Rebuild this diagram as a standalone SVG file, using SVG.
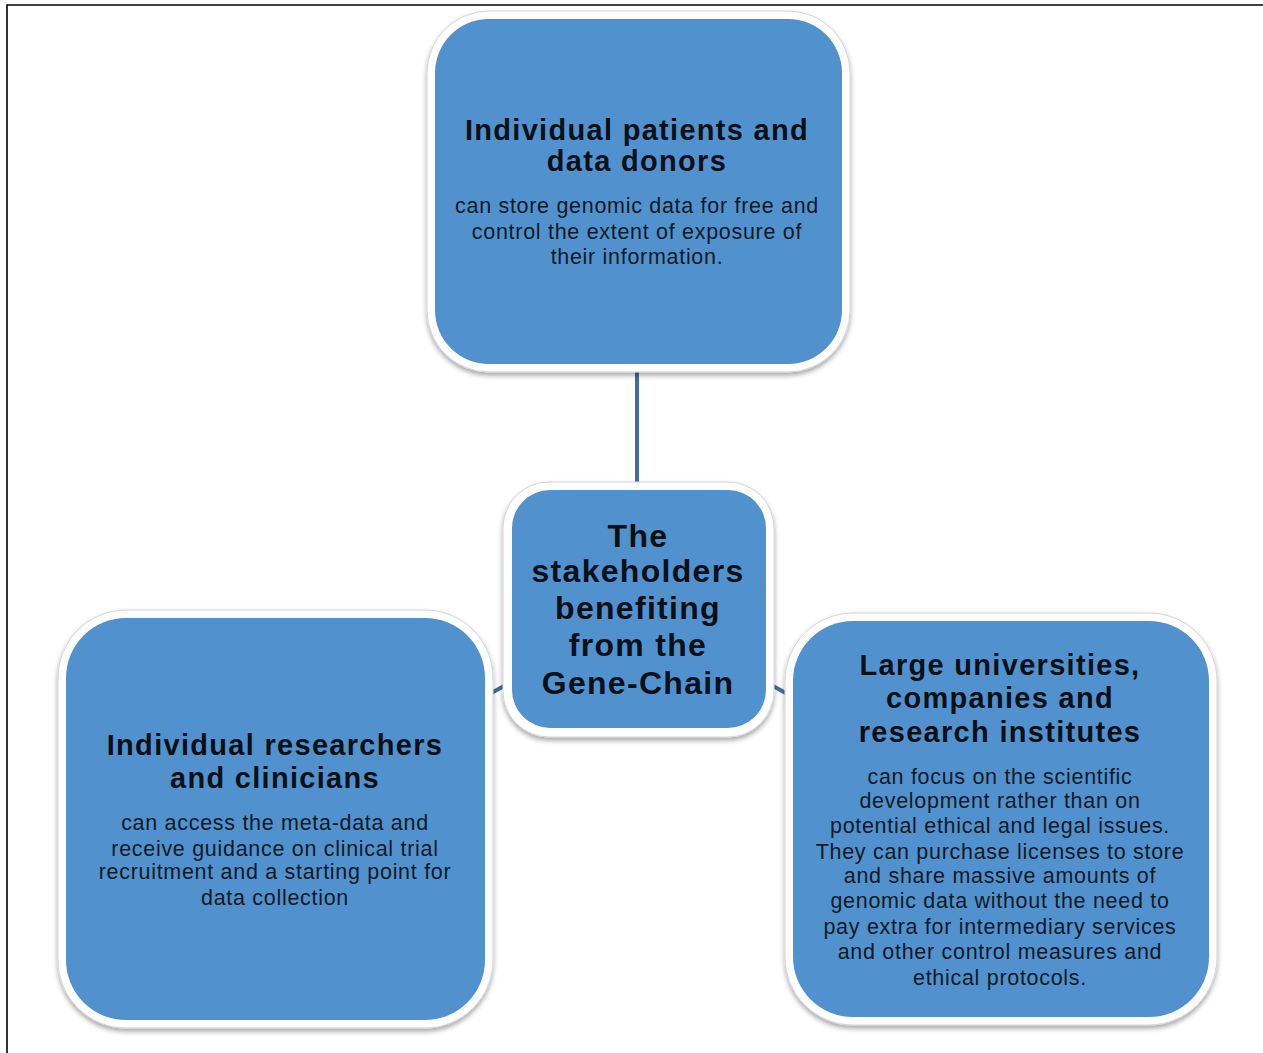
<svg xmlns="http://www.w3.org/2000/svg" width="1263" height="1053" viewBox="0 0 1263 1053">
  <defs>
    <filter id="shadow" x="-10%" y="-10%" width="120%" height="125%">
      <feDropShadow dx="0" dy="3" stdDeviation="2.5" flood-color="#000" flood-opacity="0.35"/>
    </filter>
    <style>
      .frame { stroke: #000; stroke-width: 1.6; fill: none; }
      .edge { stroke: #3d6f9f; stroke-width: 4; fill: none; }
      .rim { fill: #fff; stroke: #d4d4d4; stroke-width: 1; filter: url(#shadow); }
      .card { fill: #5192ce; }
      text { font-family: "Liberation Sans", Arial, Helvetica, sans-serif; text-anchor: middle; }
      .title { font-size: 29px; font-weight: bold; fill: #0b0f16; letter-spacing: 1.3px; }
      .hub { font-size: 32px; font-weight: bold; fill: #0b0f16; letter-spacing: 1.3px; }
      .body { font-size: 21.5px; fill: #121a26; letter-spacing: 0.7px; }
    </style>
  </defs>

  <!-- page frame (top and left rules) -->
  <path class="frame" d="M7,1053 V5 H1263"/>

  <!-- connectors from the hub to each stakeholder -->
  <g id="connectors">
    <line class="edge" x1="637" y1="366" x2="637" y2="490"/>
    <line class="edge" x1="515" y1="680" x2="484" y2="697"/>
    <line class="edge" x1="762" y1="680" x2="793" y2="697"/>
  </g>

  <!-- patients and donors -->
  <g id="node-patients">
    <rect class="rim" x="427" y="11" width="423" height="361" rx="62"/>
    <rect class="card" x="435" y="19" width="407" height="345" rx="54"/>
    <text class="title" x="637" y="140">Individual patients and</text>
    <text class="title" x="637" y="171">data donors</text>
    <text class="body" x="637" y="213">can store genomic data for free and</text>
    <text class="body" x="637" y="239">control the extent of exposure of</text>
    <text class="body" x="637" y="264">their information.</text>
  </g>

  <!-- central hub -->
  <g id="node-hub">
    <rect class="rim" x="503" y="482" width="271" height="255" rx="46"/>
    <rect class="card" x="512" y="490" width="254" height="238" rx="38"/>
    <text class="hub" x="638" y="547">The</text>
    <text class="hub" x="638" y="582">stakeholders</text>
    <text class="hub" x="638" y="619">benefiting</text>
    <text class="hub" x="638" y="656">from the</text>
    <text class="hub" x="638" y="694">Gene-Chain</text>
  </g>

  <!-- researchers and clinicians -->
  <g id="node-researchers">
    <rect class="rim" x="58" y="610" width="435" height="418" rx="68"/>
    <rect class="card" x="66" y="618" width="419" height="402" rx="60"/>
    <text class="title" x="275" y="755">Individual researchers</text>
    <text class="title" x="275" y="788">and clinicians</text>
    <text class="body" x="275" y="830">can access the meta-data and</text>
    <text class="body" x="275" y="856">receive guidance on clinical trial</text>
    <text class="body" x="275" y="879">recruitment and a starting point for</text>
    <text class="body" x="275" y="905">data collection</text>
  </g>

  <!-- universities, companies, institutes -->
  <g id="node-institutions">
    <rect class="rim" x="785" y="613" width="432" height="412" rx="68"/>
    <rect class="card" x="793" y="621" width="416" height="396" rx="60"/>
    <text class="title" x="1000" y="675">Large universities,</text>
    <text class="title" x="1000" y="708">companies and</text>
    <text class="title" x="1000" y="742">research institutes</text>
    <text class="body" x="1000" y="784">can focus on the scientific</text>
    <text class="body" x="1000" y="808">development rather than on</text>
    <text class="body" x="1000" y="833">potential ethical and legal issues.</text>
    <text class="body" x="1000" y="859">They can purchase licenses to store</text>
    <text class="body" x="1000" y="883">and share massive amounts of</text>
    <text class="body" x="1000" y="908">genomic data without the need to</text>
    <text class="body" x="1000" y="934">pay extra for intermediary services</text>
    <text class="body" x="1000" y="959">and other control measures and</text>
    <text class="body" x="1000" y="985">ethical protocols.</text>
  </g>
</svg>
